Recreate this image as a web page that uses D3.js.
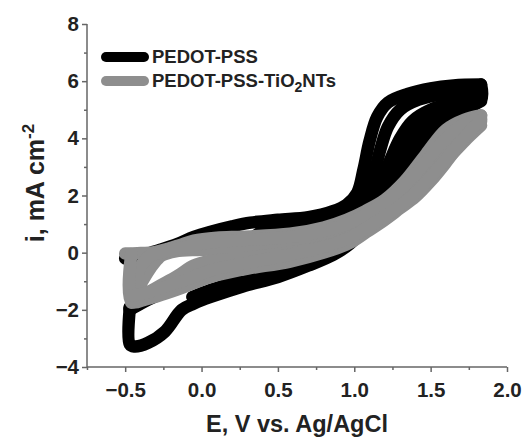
<!DOCTYPE html>
<html>
<head>
<meta charset="utf-8">
<script src="https://cdn.jsdelivr.net/npm/d3@7"></script>
<style>
  body { margin: 0; background: #fff; }
  svg text { font-family: "Liberation Sans", Arial, sans-serif; font-weight: bold; fill: #222; }
</style>
</head>
<body>
<svg id="chart" width="529" height="437"></svg>
<script>
// ticks
const xTicks = [-0.5, 0.0, 0.5, 1.0, 1.5, 2.0];
const xMinor = [-0.75, -0.25, 0.25, 0.75, 1.25, 1.75];
const yTicks = [-4, -2, 0, 2, 4, 6, 8];
const yMinor = [-3, -1, 1, 3, 5, 7];

// PEDOT-PSS, [E (V), i (mA cm-2)], scans
const pedotFwd1 = [[-0.50,-0.20],[-0.44,-0.18],[-0.36,-0.05],[-0.27,0.1],[-0.16,0.3],[-0.05,0.55],[0.06,0.73],[0.20,0.92],[0.32,1.05],[0.50,1.15],[0.70,1.24],[0.86,1.45],[0.95,1.68],[1.02,2.1],[1.06,2.9],[1.10,3.9],[1.15,4.75],[1.22,5.25],[1.35,5.55],[1.50,5.75],[1.65,5.85],[1.83,5.88]];
const pedotFwd2 = [[-0.47,-1.9],[-0.42,-1.8],[-0.35,-1.6],[-0.25,-1.3],[-0.16,-0.95],[0.0,-0.55],[0.12,-0.3],[0.25,0.15],[0.40,0.75],[0.60,1.02],[0.80,1.13],[0.95,1.45],[1.05,1.85],[1.12,2.6],[1.17,3.6],[1.22,4.4],[1.30,5.0],[1.42,5.35],[1.58,5.55],[1.83,5.65]];
const pedotFwd3 = [[-0.47,-1.95],[-0.42,-1.82],[-0.35,-1.62],[-0.25,-1.35],[-0.16,-1.0],[0.0,-0.6],[0.15,-0.3],[0.30,0.1],[0.45,0.65],[0.60,0.92],[0.80,1.05],[0.95,1.3],[1.07,1.7],[1.17,2.4],[1.24,3.3],[1.30,4.0],[1.38,4.6],[1.50,5.0],[1.65,5.25],[1.83,5.4]];
const pedotFwd4 = [[-0.47,-2.0],[-0.42,-1.85],[-0.35,-1.65],[-0.25,-1.38],[-0.16,-1.05],[0.0,-0.65],[0.18,-0.3],[0.35,0.1],[0.50,0.6],[0.65,0.88],[0.85,1.0],[1.00,1.3],[1.12,1.75],[1.23,2.5],[1.31,3.4],[1.37,4.0],[1.45,4.5],[1.57,4.85],[1.70,5.1],[1.83,5.3]];
const pedotRev1 = [[1.83,5.88],[1.83,5.35],[1.72,5.0],[1.62,4.7],[1.52,4.3],[1.45,3.9],[1.37,3.3],[1.28,2.55],[1.18,1.8],[1.08,0.95],[0.97,0.3],[0.86,-0.08],[0.70,-0.45],[0.50,-0.85],[0.27,-1.18],[0.06,-1.55],[-0.05,-1.78],[-0.13,-2.0],[-0.24,-2.76],[-0.35,-3.15],[-0.44,-3.28],[-0.47,-3.2],[-0.47,-1.95]];
const pedotRev2 = [[1.83,5.5],[1.70,5.15],[1.60,4.85],[1.50,4.45],[1.42,3.95],[1.33,3.3],[1.24,2.5],[1.14,1.7],[1.04,1.0],[0.93,0.4],[0.80,0.0],[0.60,-0.45],[0.30,-0.9],[0.06,-1.3],[-0.06,-1.55]];

// PEDOT-PSS-TiO2NTs
const tioFwd1 = [[-0.50,-0.03],[-0.42,-0.02],[-0.30,0.03],[-0.15,0.25],[-0.05,0.42],[0.10,0.52],[0.27,0.56],[0.58,0.66],[0.80,0.88],[0.95,1.15],[1.07,1.45],[1.20,1.85],[1.33,2.5],[1.47,3.45],[1.60,4.3],[1.72,4.65],[1.83,4.8]];
const tioFwd2 = [[-0.46,-1.68],[-0.415,-1.26],[-0.37,-0.84],[-0.317,-0.42],[-0.26,-0.1],[-0.17,0.05],[0.0,0.1],[0.27,0.17],[0.58,0.31],[0.80,0.55],[0.95,0.85],[1.08,1.2],[1.20,1.6],[1.33,2.2],[1.50,3.1],[1.65,3.9],[1.75,4.35],[1.83,4.6]];
const tioFwd3 = [[-0.46,-1.75],[-0.37,-1.45],[-0.27,-1.15],[-0.16,-0.82],[-0.05,-0.45],[0.05,-0.3],[0.15,-0.24],[0.27,-0.18],[0.58,0.0],[0.80,0.22],[0.95,0.5],[1.08,0.9],[1.20,1.3],[1.35,1.9],[1.50,2.7],[1.65,3.5],[1.75,4.05],[1.83,4.45]];
const tioFwd4 = [[-0.46,-1.7],[-0.445,-1.2],[-0.42,-0.75],[-0.39,-0.4],[-0.34,-0.12],[-0.25,0.02],[-0.10,0.2],[0.05,0.35],[0.30,0.45],[0.58,0.55],[0.80,0.75],[0.95,1.0],[1.08,1.35],[1.20,1.75],[1.33,2.35],[1.48,3.25],[1.60,4.0],[1.72,4.5],[1.83,4.7]];
const tioRev1 = [[1.83,4.8],[1.80,4.5],[1.70,3.85],[1.60,3.15],[1.50,2.5],[1.40,1.95],[1.30,1.55],[1.20,1.15],[1.08,0.72],[0.97,0.34],[0.80,0.0],[0.58,-0.31],[0.27,-0.59],[0.06,-0.85],[-0.16,-1.29],[-0.37,-1.64],[-0.46,-1.71],[-0.46,-0.05]];
const tioRev2 = [[1.83,4.65],[1.75,4.2],[1.65,3.6],[1.55,2.95],[1.45,2.35],[1.35,1.85],[1.25,1.45],[1.12,1.0],[1.00,0.6],[0.85,0.28],[0.60,-0.05],[0.27,-0.38],[0.06,-0.62],[-0.16,-1.06],[-0.30,-1.3],[-0.40,-1.45],[-0.46,-1.5]];

const series = [
  { name: "PEDOT-PSS", color: "#000", scans: [pedotFwd1, pedotFwd2, pedotFwd3, pedotFwd4, pedotRev1, pedotRev2] },
  { name: "PEDOT-PSS-TiO2NTs", color: "#8e8e8e", scans: [tioFwd1, tioFwd2, tioFwd3, tioFwd4, tioRev1, tioRev2] }
];

const svg = d3.select("#chart");
const x = d3.scaleLinear().domain([-0.75, 2.0]).range([87, 507]);
const y = d3.scaleLinear().domain([-4, 8]).range([367, 24]);

const line = d3.line()
  .x(d => x(d[0]))
  .y(d => y(d[1]))
  .curve(d3.curveCatmullRom.alpha(0.5));

// curves
series.forEach(s => {
  svg.append("g")
    .selectAll("path")
    .data(s.scans)
    .enter()
    .append("path")
    .attr("d", line)
    .attr("fill", "none")
    .attr("stroke", s.color)
    .attr("stroke-width", 12.5)
    .attr("stroke-linejoin", "round")
    .attr("stroke-linecap", "round");
});

// axes
const xAxis = svg.append("g").attr("transform", "translate(0,367)")
  .call(d3.axisBottom(x).tickValues(xTicks).tickFormat(d3.format(".1f")).tickSize(5).tickPadding(10));
svg.append("g").attr("transform", "translate(0,367)")
  .call(d3.axisBottom(x).tickValues(xMinor).tickFormat("").tickSize(3))
  .select(".domain").remove();
const yAxis = svg.append("g").attr("transform", "translate(87,0)")
  .call(d3.axisLeft(y).tickValues(yTicks).tickSize(5).tickPadding(3));
svg.append("g").attr("transform", "translate(87,0)")
  .call(d3.axisLeft(y).tickValues(yMinor).tickFormat("").tickSize(3))
  .select(".domain").remove();

svg.selectAll(".domain").attr("stroke", "#666").attr("stroke-width", 1.5);
svg.selectAll(".tick line").attr("stroke", "#666").attr("stroke-width", 1.5);
svg.selectAll(".tick text").style("font-size", "20.5px").attr("fill", "#222");
xAxis.selectAll(".domain").attr("d", "M87,0H507");
yAxis.selectAll(".domain").attr("d", "M0,367V24");

// axis titles
svg.append("text")
  .attr("x", 297).attr("y", 432)
  .attr("text-anchor", "middle")
  .style("font-size", "23.5px")
  .text("E, V vs. Ag/AgCl");

const yTitle = svg.append("text")
  .attr("transform", "translate(44,183) rotate(-90)")
  .attr("text-anchor", "middle")
  .style("font-size", "25px");
yTitle.append("tspan").text("i, mA cm");
yTitle.append("tspan").attr("dy", -10).style("font-size", "17px").text("-2");

// legend
const legend = svg.append("g");
series.forEach((s, k) => {
  const ly = 57 + k * 24;
  legend.append("line")
    .attr("x1", 106).attr("x2", 144).attr("y1", ly).attr("y2", ly)
    .attr("stroke", s.color).attr("stroke-width", 10).attr("stroke-linecap", "round");
  const t = legend.append("text").attr("x", 152).attr("y", ly + 6).style("font-size", "18.5px");
  if (s.name.includes("TiO2")) {
    t.append("tspan").text("PEDOT-PSS-TiO");
    t.append("tspan").attr("dy", 5).style("font-size", "14px").text("2");
    t.append("tspan").attr("dy", -5).text("NTs");
  } else {
    t.text(s.name);
  }
});
</script>
</body>
</html>
